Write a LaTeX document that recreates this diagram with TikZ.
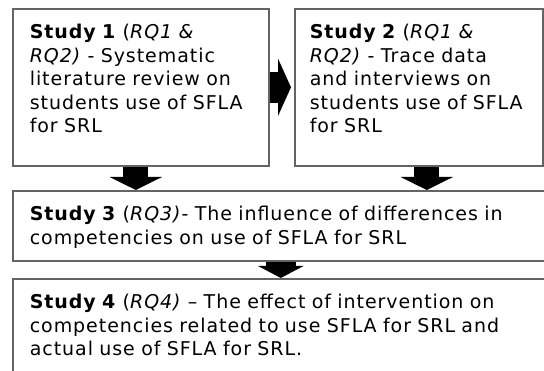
\documentclass[tikz,border=0pt]{standalone}
\usepackage{fontspec}
\setmainfont{DejaVu Sans}[LetterSpace=5]
\usetikzlibrary{arrows.meta}

\begin{document}
\begin{tikzpicture}[x=1pt,y=-1pt,
  study/.style={draw={rgb,255:red,100;green,100;blue,100},line width=1.6pt,
    anchor=north west,align=left,inner xsep=17pt,inner ysep=13pt,text height=17pt,
    font=\fontsize{19}{23.5}\selectfont},
  blockarrow/.style={line width=25pt,-{Triangle[width=52pt,length=13pt]}}]
  \clip (0,0) rectangle (544,371);
  \node[study,text width=222pt,text depth=114pt] (study1) at (12,8)
    {\textbf{Study 1} (\textit{RQ1 \&}\\ \textit{RQ2)} - Systematic\\ literature review on\\ students use of SFLA\\ for SRL};
  \node[study,inner xsep=15pt,text width=218pt,text depth=114pt] (study2) at (294,8)
    {\textbf{Study 2} (\textit{RQ1 \&}\\ \textit{RQ2)} - Trace data\\ and interviews on\\ students use of SFLA\\ for SRL};
  \node[study,text width=502pt,text depth=27pt] (study3) at (12,190)
    {\textbf{Study 3} (\textit{RQ3)}- The influence of differences in\\ competencies on use of SFLA for SRL};
  \node[study,text width=502pt,text depth=70pt] (study4) at (12,278)
    {\textbf{Study 4} (\textit{RQ4)} -- The effect of intervention on\\ competencies related to use SFLA for SRL and\\ actual use of SFLA for SRL.};
  \draw[blockarrow,line width=31pt,-{Triangle[width=57pt,length=13pt]},shorten >=3pt] (study1.east) -- (study2.west);
  \draw[blockarrow] ([xshift=-5pt]study1.south) -- ([xshift=-5pt]study1.south |- study3.north);
  \draw[blockarrow] ([xshift=8pt]study2.south) -- ([xshift=8pt]study2.south |- study3.north);
  \draw[blockarrow,line width=30pt,-{Triangle[width=45pt,length=12pt]}] (study3.south) -- (study4.north);
\end{tikzpicture}
\end{document}
